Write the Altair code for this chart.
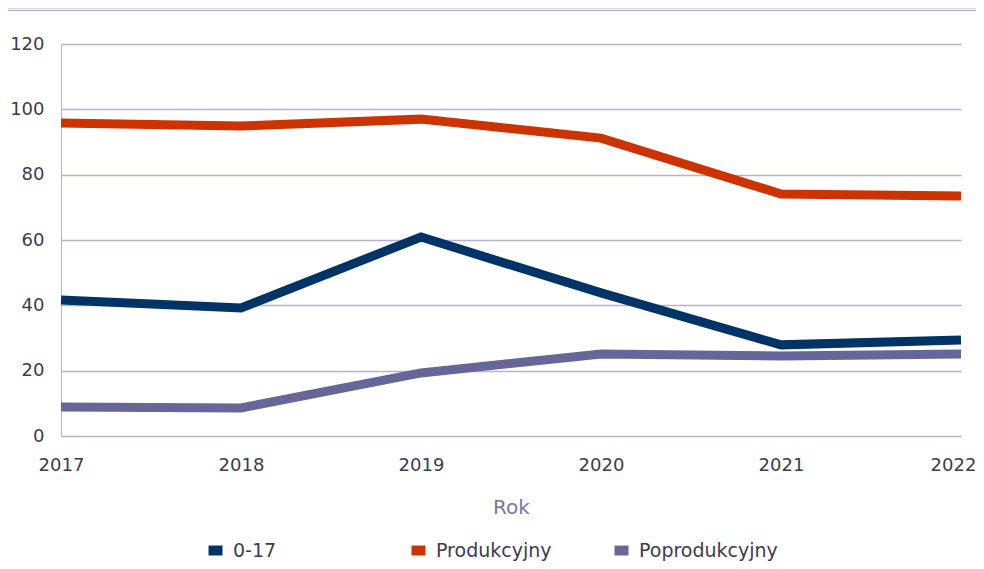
import altair as alt
import pandas as pd

years = [2017, 2018, 2019, 2020, 2021, 2022]
series_names = ["0-17", "Produkcyjny", "Poprodukcyjny"]
v_0_17 = [41.6, 39.2, 60.9, 43.8, 27.9, 29.4]
v_prod = [95.8, 94.9, 97.0, 91.2, 74.1, 73.5]
v_poprod = [8.9, 8.6, 19.3, 25.1, 24.5, 25.1]
colors = ["#003366", "#CC3300", "#666699"]

rows = []
for name, vals in zip(series_names, [v_0_17, v_prod, v_poprod]):
    for y, v in zip(years, vals):
        rows.append({"Rok": y, "Wartość": v, "Grupa": name})
df = pd.DataFrame(rows)

FONT = "DejaVu Sans"

lines = alt.Chart(df).mark_line(strokeWidth=9, strokeCap="butt", strokeJoin="miter").encode(
    x=alt.X("Rok:Q", scale=alt.Scale(domain=[2017, 2022], nice=False, zero=False),
            axis=alt.Axis(values=years, format="d", grid=False, domain=False, ticks=False,
                          labelFontSize=18, labelColor="#3b3b55", labelPadding=20,
                          labelFlush=False,
                          labelOffset={"condition": {"test": "datum.value == 2022", "value": -8}, "value": 0},
                          title="Rok", titleFontSize=20,
                          titleColor="#7777a0", titleFontWeight="normal", titlePadding=23,
                          labelFont=FONT, titleFont=FONT)),
    y=alt.Y("Wartość:Q", scale=alt.Scale(domain=[0, 120], nice=False),
            axis=alt.Axis(values=[0, 20, 40, 60, 80, 100, 120], title=None, grid=True,
                          gridColor="#b3b3cc", gridWidth=1.5, domain=True, domainColor="#b3b3cc",
                          ticks=False, labelFontSize=18, labelColor="#3b3b55", labelPadding=17,
                          labelFont=FONT)),
    color=alt.Color("Grupa:N", scale=alt.Scale(domain=series_names, range=colors),
                    legend=alt.Legend(title=None, orient="none", legendX=145, legendY=497,
                                      direction="horizontal",
                                      symbolType="M-1,-0.55H1V0.55H-1Z", symbolSize=81,
                                      symbolStrokeWidth=5,
                                      labelFontSize=19, labelColor="#3b3b55", labelFont=FONT,
                                      labelOffset=8, columnPadding=32, gridAlign="all",
                                      labelLimit=300)),
)

top_rule = alt.Chart(pd.DataFrame({"a": [0]})).mark_rule(color="#a8a8c4", strokeWidth=1.2).encode(
    x=alt.value(-61), x2=alt.value(930), y=alt.value(-36))
top_rule2 = alt.Chart(pd.DataFrame({"a": [0]})).mark_rule(color="#a8a8c4", strokeWidth=1.2).encode(
    x=alt.value(-61), x2=alt.value(930), y=alt.value(-33.5))

chart = alt.layer(top_rule, top_rule2, lines).properties(
    width=900, height=392,
    autosize=alt.AutoSizeParams(type="none"),
    padding={"left": 53, "top": 36, "right": 15, "bottom": 125},
).configure(background="white").configure_view(stroke=None)

chart.save("out.html", embed_options={"renderer": "svg", "actions": False})
